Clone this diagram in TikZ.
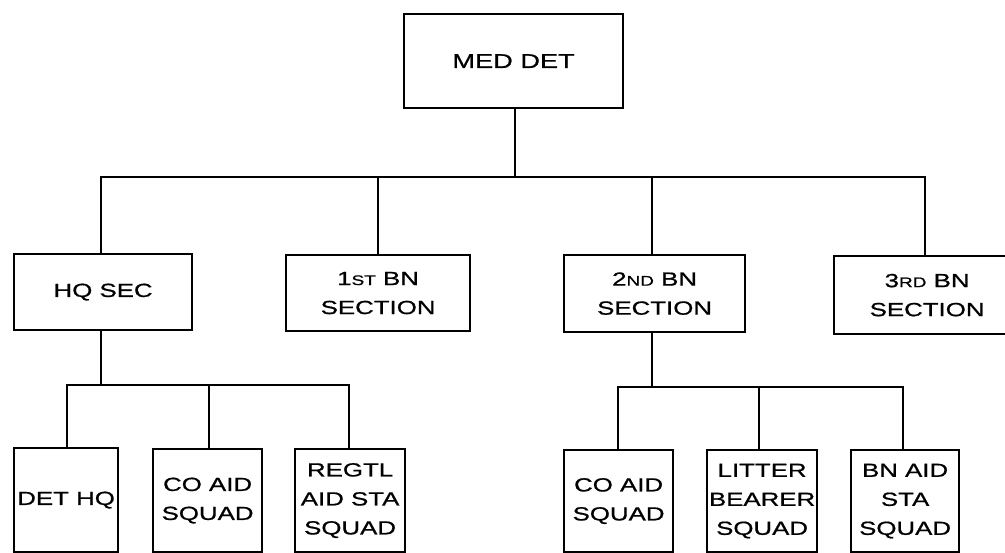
\documentclass[tikz,border=0pt]{standalone}
\usepackage{fontspec}
\newfontfamily\lett[FakeStretch=1.36,FakeBold=0.8]{Liberation Sans}
\newcommand\smc[1]{{\fontsize{14}{14}\selectfont #1}}
\begin{document}
\begin{tikzpicture}[x=1pt,y=-1pt,
  box/.style={draw, line width=2.2pt, rectangle, anchor=north west, inner sep=0pt,
    align=center, font={\lett\fontsize{19}{29}\selectfont}},
  link/.style={line width=2.2pt, line join=miter}]
\useasboundingbox (0,0) rectangle (1005,553);
\clip (0,0) rectangle (1005,553);
% top
\node[box, minimum width=219pt, minimum height=94pt, font={\lett\fontsize{20}{29}\selectfont}] (med) at (403,13) {MED DET};
% second level
\node[box, minimum width=178pt, minimum height=76pt] (hq) at (13,253) {HQ SEC};
\node[box, minimum width=184pt, minimum height=76pt] (bn1) at (285,254) {1\smc{ST} BN\\SECTION};
\node[box, minimum width=181pt, minimum height=77pt] (bn2) at (563,254) {2\smc{ND} BN\\SECTION};
\node[box, minimum width=186pt, minimum height=78pt] (bn3) at (833,255) {3\smc{RD} BN\\SECTION};
% third level
\node[box, minimum width=104pt, minimum height=104pt] (dethq) at (13,447) {DET HQ};
\node[box, minimum width=109pt, minimum height=103pt] (coaid1) at (152,448) {CO AID\\SQUAD};
\node[box, minimum width=110pt, minimum height=103pt] (regtl) at (294,448) {REGTL\\AID STA\\SQUAD};
\node[box, minimum width=109pt, minimum height=102pt] (coaid2) at (563,449) {CO AID\\SQUAD};
\node[box, minimum width=110pt, minimum height=102pt] (litter) at (706,449) {LITTER\\BEARER\\SQUAD};
\node[box, minimum width=108pt, minimum height=102pt] (bnaid) at (850,449) {BN AID\\STA\\SQUAD};
% bus coordinates
\coordinate (topbus) at (515,177);
\coordinate (tb1) at (101,177);
\coordinate (tb2) at (378,177);
\coordinate (tb3) at (652,177);
\coordinate (tb4) at (925,177);
\coordinate (hqbus) at (101,385);
\coordinate (hb1) at (67,385);
\coordinate (hb2) at (209,385);
\coordinate (hb3) at (349,385);
\coordinate (bn2bus) at (652,387);
\coordinate (sb1) at (618,387);
\coordinate (sb2) at (759,387);
\coordinate (sb3) at (903,387);
% top connectors
\draw[link] (med.south -| topbus) -- (topbus);
\draw[link] (hq.north -| tb1) -- (tb1) -- (tb4) -- (bn3.north -| tb4);
\draw[link] (bn1.north -| tb2) -- (tb2);
\draw[link] (bn2.north -| tb3) -- (tb3);
% HQ sub connectors
\draw[link] (hq.south -| hqbus) -- (hqbus);
\draw[link] (dethq.north -| hb1) -- (hb1) -- (hb3) -- (regtl.north -| hb3);
\draw[link] (coaid1.north -| hb2) -- (hb2);
% 2nd BN sub connectors
\draw[link] (bn2.south -| bn2bus) -- (bn2bus);
\draw[link] (coaid2.north -| sb1) -- (sb1) -- (sb3) -- (bnaid.north -| sb3);
\draw[link] (litter.north -| sb2) -- (sb2);
\end{tikzpicture}
\end{document}
